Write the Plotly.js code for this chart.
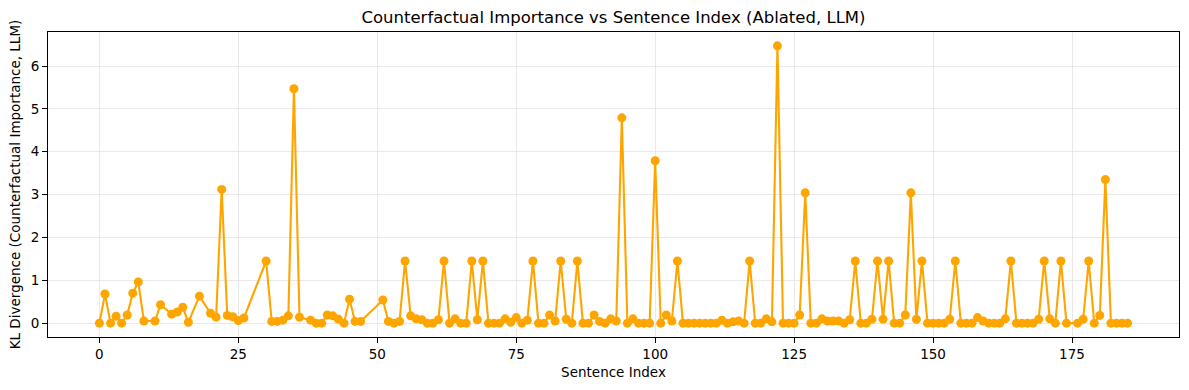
<!DOCTYPE html>
<html>
<head>
<meta charset="utf-8">
<script src="https://cdn.plot.ly/plotly-3.0.1.min.js"></script>
<style>html,body{margin:0;padding:0;background:#fff;}#chart{width:1189px;height:390px;}</style>
</head>
<body>
<div id="chart"></div>
<script>
const sentenceIndex = [0,1,2,3,4,5,6,7,8,10,11,13,14,15,16,18,20,21,22,23,24,25,26,
  30,31,32,33,34,35,36,38,39,40,41,42,43,44,45,46,47,
  51,52,53,54,55,56,57,58,59,60,61,62,63,64,65,66,67,68,69,70,
  71,72,73,74,75,76,77,78,79,80,81,82,83,84,85,86,87,88,89,90,
  91,92,93,94,95,96,97,98,99,100,101,102,103,104,105,106,107,108,109,110,
  111,112,113,114,115,116,117,118,119,120,121,122,123,124,125,126,127,128,129,130,
  131,132,133,134,135,136,137,138,139,140,141,142,143,144,145,146,147,148,149,150,
  151,152,153,154,155,156,157,158,159,160,161,162,163,164,165,166,167,168,169,170,
  171,172,173,174,176,177,178,179,180,181,182,183,184,185];

const klDivergence = [0,0.68,0,0.16,0,0.19,0.70,0.96,0.05,0.05,0.43,0.21,0.26,0.37,0.02,0.63,0.23,0.14,3.12,0.18,0.15,0.06,0.12,
  1.45,0.04,0.04,0.07,0.17,5.47,0.14,0.07,0,0,0.19,0.17,0.09,0,0.56,0.04,0.04,
  0.54,0.04,0,0.04,1.45,0.17,0.10,0.08,0,0,0.08,1.45,0,0.10,0,0,1.45,0.08,1.45,0,
  0,0,0.10,0.02,0.13,0,0.07,1.45,0,0,0.19,0.05,1.45,0.09,0,1.45,0,0,0.19,0.04,
  0,0.10,0.05,4.79,0,0.10,0,0,0,3.79,0,0.19,0.05,1.45,0,0,0,0,0,0,
  0,0.07,0,0.03,0.05,0,1.45,0,0,0.10,0.03,6.47,0,0,0,0.19,3.04,0,0,0.10,
  0.05,0.05,0.05,0,0.08,1.45,0,0,0.09,1.45,0.09,1.45,0,0,0.19,3.04,0.09,1.45,0,0,
  0,0,0.09,1.45,0,0,0,0.13,0.05,0,0,0,0.10,1.45,0,0,0,0,0.09,1.45,
  0.10,0,1.45,0,0,0.09,1.45,0,0.18,3.35,0,0,0,0];

const xTicks = [0,25,50,75,100,125,150,175];
const yTicks = [0,1,2,3,4,5,6];

const FONT = "DejaVu Sans, sans-serif";
const gridCol = "#e3e3e3";

const trace = {
  x: sentenceIndex,
  y: klDivergence,
  type: "scatter",
  mode: "lines+markers",
  line: {color: "#FFA500", width: 2.1},
  marker: {color: "#FFA500", size: 9},
  hoverinfo: "x+y"
};

const layout = {
  width: 1189, height: 390,
  margin: {l: 48, r: 10, t: 32, b: 53},
  paper_bgcolor: "#fff", plot_bgcolor: "#fff",
  showlegend: false,
  font: {family: FONT, size: 13.5, color: "#000"},
  title: {
    text: "Counterfactual Importance vs Sentence Index (Ablated, LLM)",
    font: {family: FONT, size: 16.5, color: "#000"},
    x: 0.5, xref: "paper", y: 1 - 17/390, yref: "container", yanchor: "middle"
  },
  xaxis: {
    range: [-9.25, 194.25],
    tickvals: xTicks,
    ticktext: xTicks.map(String),
    showgrid: true, gridcolor: gridCol, gridwidth: 0.8,
    zeroline: false,
    showline: true, linecolor: "#000", linewidth: 1, mirror: true,
    ticks: "outside", ticklen: 5, tickwidth: 1, tickcolor: "#000",
    tickfont: {family: FONT, size: 13.5, color: "#000"},
    title: {text: "Sentence Index", font: {family: FONT, size: 13.5, color: "#000"}, standoff: 6},
    automargin: false
  },
  yaxis: {
    range: [-0.3235, 6.7935],
    tickvals: yTicks,
    ticktext: yTicks.map(String),
    showgrid: true, gridcolor: gridCol, gridwidth: 0.8,
    zeroline: false,
    showline: true, linecolor: "#000", linewidth: 1, mirror: true,
    ticks: "outside", ticklen: 5, tickwidth: 1, tickcolor: "#000",
    tickfont: {family: FONT, size: 13.5, color: "#000"},
    title: {text: "KL Divergence (Counterfactual Importance, LLM)", font: {family: FONT, size: 13.5, color: "#000"}, standoff: 6},
    automargin: false
  }
};

Plotly.newPlot("chart", [trace], layout, {displayModeBar: false, staticPlot: true});
</script>
</body>
</html>
